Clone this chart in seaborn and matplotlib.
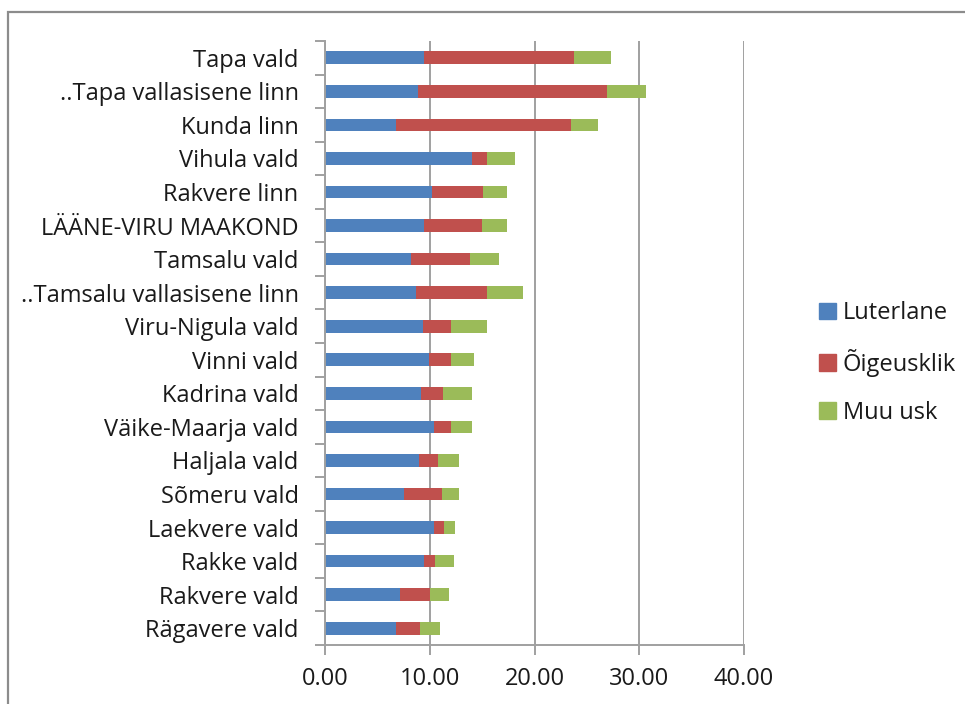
import numpy as np
import pandas as pd
import matplotlib
matplotlib.use("Agg")
import matplotlib.pyplot as plt
import matplotlib.patches as mpatches
import seaborn as sns

# Andmed (loetud pildilt)
kohad = ["Tapa vald", "..Tapa vallasisene linn", "Kunda linn", "Vihula vald",
         "Rakvere linn", "LÄÄNE-VIRU MAAKOND", "Tamsalu vald",
         "..Tamsalu vallasisene linn", "Viru-Nigula vald", "Vinni vald",
         "Kadrina vald", "Väike-Maarja vald", "Haljala vald", "Sõmeru vald",
         "Laekvere vald", "Rakke vald", "Rakvere vald", "Rägavere vald"]
luterlane = [9.47, 8.84, 6.77, 14.08, 10.17, 9.47, 8.23, 8.68, 9.35, 9.95,
             9.19, 10.43, 9.00, 7.50, 10.43, 9.45, 7.12, 6.77]
oigeusklik = [14.33, 18.06, 16.73, 1.38, 4.93, 5.51, 5.63, 6.78, 2.70, 2.10,
              2.10, 1.62, 1.81, 3.69, 0.89, 1.01, 2.93, 2.32]
muu_usk = [3.50, 3.70, 2.60, 2.64, 2.30, 2.42, 2.71, 3.40, 3.37, 2.20,
           2.79, 1.94, 1.94, 1.56, 1.08, 1.81, 1.75, 1.85]
seeria = ["Luterlane", "Õigeusklik", "Muu usk"]
varvid = ["#4F81BD", "#C0504D", "#9BBB59"]

df = pd.DataFrame({"koht": kohad, "Luterlane": luterlane,
                   "Õigeusklik": oigeusklik, "Muu usk": muu_usk})
df["c1"] = df["Luterlane"]
df["c2"] = df["c1"] + df["Õigeusklik"]
df["c3"] = df["c2"] + df["Muu usk"]

sns.set_theme(style="white")
plt.rcParams["font.family"] = ["Open Sans", "DejaVu Sans"]
plt.rcParams["text.color"] = "#1a1a1a"
fs = 17

fig = plt.figure(figsize=(9.65, 7.04), dpi=100)
ax = fig.add_axes([325 / 965, 1 - 645 / 704, 419 / 965, 604 / 704])

# virnastatud tulbad: kõige pikem enne, siis lühemad peale
for col, c in zip(["c3", "c2", "c1"], varvid[::-1]):
    sns.barplot(data=df, x=col, y="koht", order=kohad, color=c,
                width=0.38, orient="h", ax=ax, saturation=1, linewidth=0)

ax.set_xlim(0, 40)
ax.set_ylim(len(kohad) - 0.5, -0.5)
ax.set_xticks([0, 10, 20, 30, 40])
ax.set_xticklabels([f"{v:.2f}" for v in [0, 10, 20, 30, 40]])
ax.set_xlabel("")
ax.set_ylabel("")

gray = "#a0a0a0"
ax.xaxis.grid(True, color=gray, linewidth=1.4)
ax.set_axisbelow(True)
for s in ["top", "right"]:
    ax.spines[s].set_visible(False)
ax.spines["left"].set_color(gray)
ax.spines["bottom"].set_color(gray)
ax.spines["left"].set_linewidth(1.4)
ax.spines["bottom"].set_linewidth(1.4)

ax.set_yticks(np.arange(-0.5, len(kohad), 1.0), minor=True)
ax.tick_params(axis="y", which="major", length=0, pad=19, labelsize=fs,
               labelcolor="#1a1a1a")
ax.tick_params(axis="y", which="minor", length=7, width=1.4, color=gray,
               direction="out", left=True)
ax.tick_params(axis="x", which="major", length=7, width=1.4, color=gray,
               direction="out", bottom=True, pad=9, labelsize=fs,
               labelcolor="#1a1a1a")

# legend
kasud = [mpatches.Patch(color=c, label=s) for s, c in zip(seeria, varvid)]
fig.legend(handles=kasud, loc="center left", bbox_to_anchor=(798 / 965, 1 - 363 / 704),
           frameon=False, fontsize=fs, handlelength=0.7, handleheight=0.7,
           handletextpad=0.3, labelspacing=1.0)

# välisraam
fig.patches.append(mpatches.Rectangle((8 / 965, -0.1), 1.2, 1.1 - 12 / 704,
                                      transform=fig.transFigure, fill=False,
                                      edgecolor="#8c8c8c", linewidth=1.6))

fig.savefig("out.png", dpi=100)
